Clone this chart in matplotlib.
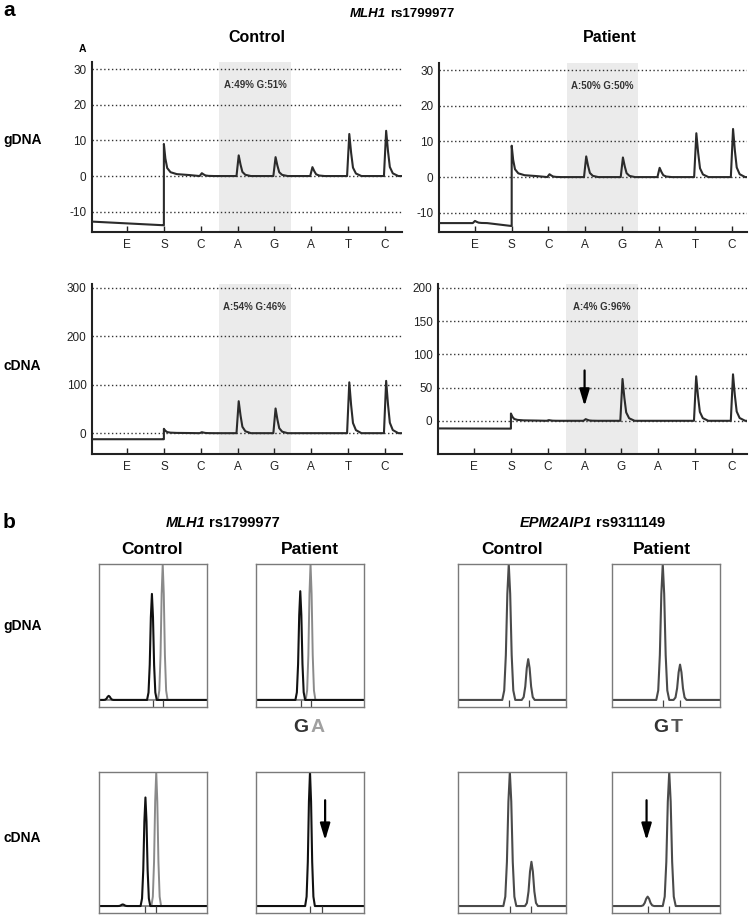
import matplotlib.pyplot as plt
import numpy as np

plt.rcParams['font.family'] = ['Liberation Sans', 'DejaVu Sans']
plt.rcParams['axes.unicode_minus'] = False

W, H = 751, 915

dispensations = ['E', 'S', 'C', 'A', 'G', 'A', 'T', 'C']

# panel a: pyrogram peak heights at each dispensation (E, S, C, A, G, A, T, C)
gdna_control = [0.0, 9.0, 0.8, 5.8, 5.3, 2.5, 11.8, 12.7]
gdna_patient = [0.6, 8.8, 0.8, 5.8, 5.5, 2.6, 12.3, 13.5]
cdna_control = [0.0, 9.0, 2.0, 66.0, 51.0, 0.0, 105.0, 108.0]
cdna_patient = [0.0, 11.0, 1.0, 2.5, 63.0, 0.0, 67.0, 70.0]
# signal level before the S step (start, end)
pre_gdna_control = [-12.8, -13.8]
pre_gdna_patient = [-12.9, -13.7]
pre_cdna_control = [-12.5, -12.5]
pre_cdna_patient = [-11.5, -11.8]
ratio_labels = ['A:49% G:51%', 'A:50% G:50%', 'A:54% G:46%', 'A:4% G:96%']

gdna_ticks = [-10, 0, 10, 20, 30]
cdna_control_ticks = [0, 100, 200, 300]
cdna_patient_ticks = [0, 50, 100, 150, 200]

# panel b: allele peaks as (position in window, relative height)
mlh1_g_ctrl_dark = [(0.09, 0.03), (0.49, 0.78)]
mlh1_g_ctrl_light = [(0.59, 1.0)]
mlh1_g_pat_dark = [(0.41, 0.80)]
mlh1_g_pat_light = [(0.505, 1.0)]
mlh1_c_ctrl_dark = [(0.22, 0.012), (0.43, 0.81)]
mlh1_c_ctrl_light = [(0.53, 1.0)]
mlh1_c_pat_dark = [(0.50, 1.0)]
mlh1_c_pat_light = []
epm_g_ctrl = [(0.47, 1.0), (0.65, 0.30)]
epm_g_pat = [(0.47, 1.0), (0.63, 0.26)]
epm_c_ctrl = [(0.48, 1.0), (0.68, 0.33)]
epm_c_pat = [(0.33, 0.07), (0.53, 1.0)]
# allele marks on the strip under each window
marks_mlh1_g_ctrl = [0.50, 0.59]
marks_mlh1_g_pat = [0.42, 0.51]
marks_mlh1_c_ctrl = [0.43, 0.53]
marks_mlh1_c_pat = [0.50, 0.61]
marks_epm_g_ctrl = [0.47, 0.66]
marks_epm_g_pat = [0.47, 0.63]
marks_epm_c_ctrl = [0.48, 0.68]
marks_epm_c_pat = [0.33, 0.53]

# peak shape templates (styling)
PEAK_DX = [-0.06, 0.0, 0.05, 0.1, 0.18, 0.33]
PEAK_FR = [0.0, 1.0, 0.55, 0.2, 0.06, 0.0]
S_DX = [0.04, 0.09, 0.18, 0.35, 0.7]
S_FR = [0.55, 0.25, 0.12, 0.06, 0.03]
B_DX = np.array([-1, -0.7, -0.45, -0.22, 0, 0.22, 0.45, 0.7, 1])
B_FR = np.array([0, 0.07, 0.33, 0.78, 1, 0.78, 0.33, 0.07, 0])
ARROW = dict(arrowstyle='-|>,head_width=0.3,head_length=1.0',
             color='black', lw=1.6)

fig = plt.figure(figsize=(W / 100, H / 100), dpi=100)


def px_axes(l, t, r, b):
    return fig.add_axes([l / W, 1 - b / H, (r - l) / W, (b - t) / H])


def ftext(x, y, s, **kw):
    kw.setdefault('ha', 'center')
    kw.setdefault('va', 'center')
    fig.text(x / W, 1 - y / H, s, **kw)


def pyro_trace(heights, pre, x0, x1):
    xs, ys = [x0], [pre[0]]
    if heights[0] > 0:
        for dx, fr in zip(PEAK_DX, PEAK_FR):
            xs.append(1 + dx)
            ys.append(pre[0] + fr * heights[0])
    xs += [1.98, 2.0, 2.0]
    ys += [pre[1], pre[1], heights[1]]
    for dx, fr in zip(S_DX, S_FR):
        xs.append(2 + dx)
        ys.append(fr * heights[1])
    for i in range(2, 8):
        c = i + 1.03
        for dx, fr in zip(PEAK_DX, PEAK_FR):
            xs.append(c + dx)
            ys.append(fr * heights[i])
    xs.append(x1)
    ys.append(0)
    return xs, ys


def pyro_panel(rect, heights, pre, yticks, ylim, xlim, label):
    ax = px_axes(*rect)
    ax.axvspan(3.5, 5.45, color='#ebebeb', zorder=0, lw=0)
    xs, ys = pyro_trace(heights, pre, xlim[0] + 0.03, xlim[1] - 0.02)
    ax.plot(xs, ys, color='#2b2b2b', lw=1.5, zorder=3)
    ax.set_xlim(*xlim)
    ax.set_ylim(*ylim)
    ax.set_xticks(range(1, 9))
    ax.set_xticklabels(dispensations)
    ax.set_yticks(yticks)
    for s in ['top', 'right']:
        ax.spines[s].set_visible(False)
    for s in ['left', 'bottom']:
        ax.spines[s].set_linewidth(1.5)
        ax.spines[s].set_color('#222222')
    ax.tick_params(axis='x', direction='in', length=4, width=1, pad=5,
                   labelsize=8.5, colors='#222222')
    ax.tick_params(axis='y', length=0, pad=4, labelsize=8.5, colors='#222222')
    ax.yaxis.grid(True, linestyle=(0, (1, 1.8)), color='#333333', lw=1.0)
    ax.set_axisbelow(True)
    ax.text(4.47, 0.865, label, transform=ax.get_xaxis_transform(),
            ha='center', va='center', fontsize=7, fontweight='bold',
            color='#333333')
    return ax


pyro_panel((92, 62, 402, 232), gdna_control, pre_gdna_control, gdna_ticks,
           (-15.7, 32), (0.05, 8.46), ratio_labels[0])
pyro_panel((439, 63, 747, 232), gdna_patient, pre_gdna_patient, gdna_ticks,
           (-15.4, 32), (0.02, 8.41), ratio_labels[1])
pyro_panel((92, 284, 402, 454), cdna_control, pre_cdna_control,
           cdna_control_ticks, (-43, 308), (0.05, 8.46), ratio_labels[2])
ax_cp = pyro_panel((438, 284, 747, 454), cdna_patient, pre_cdna_patient,
                   cdna_patient_ticks, (-50, 206), (0.02, 8.41), ratio_labels[3])
ax_cp.annotate('', xy=(4, 18), xytext=(4, 80), arrowprops=ARROW, zorder=5)


def allele_trace(peaks, hw):
    xs, ys = [0.0], [0.0]
    for pos, h in sorted(peaks):
        xs += list(pos + B_DX * hw)
        ys += list(B_FR * h)
    xs.append(1.0)
    ys.append(0.0)
    return xs, ys


def allele_panel(rect, dark, light, marks, hw, dark_color='#111111',
                 light_color='#8a8a8a'):
    ax = px_axes(*rect)
    if light:
        xs, ys = allele_trace(light, hw)
        ax.plot(xs, ys, color=light_color, lw=1.4)
    xs, ys = allele_trace(dark, hw)
    ax.plot(xs, ys, color=dark_color, lw=1.5)
    ax.vlines(marks, -0.052, 0, color='#444444', lw=0.9)
    ax.set_xlim(0, 1)
    ax.set_ylim(-0.052, 1.0)
    ax.set_xticks([])
    ax.set_yticks([])
    for s in ax.spines.values():
        s.set_color('#7a7a7a')
        s.set_linewidth(1.0)
    return ax


cols = [99, 256, 458, 612]
gtop, gbot = 564, 707
ctop, cbot = 772, 913
bw = 108

allele_panel((cols[0], gtop, cols[0] + bw, gbot), mlh1_g_ctrl_dark,
             mlh1_g_ctrl_light, marks_mlh1_g_ctrl, 0.045)
allele_panel((cols[1], gtop, cols[1] + bw, gbot), mlh1_g_pat_dark,
             mlh1_g_pat_light, marks_mlh1_g_pat, 0.045)
allele_panel((cols[2], gtop, cols[2] + bw, gbot), epm_g_ctrl, [],
             marks_epm_g_ctrl, 0.06, dark_color='#4a4a4a')
allele_panel((cols[3], gtop, cols[3] + bw, gbot), epm_g_pat, [],
             marks_epm_g_pat, 0.06, dark_color='#4a4a4a')
allele_panel((cols[0], ctop, cols[0] + bw, cbot), mlh1_c_ctrl_dark,
             mlh1_c_ctrl_light, marks_mlh1_c_ctrl, 0.045)
axb = allele_panel((cols[1], ctop, cols[1] + bw, cbot), mlh1_c_pat_dark,
                   mlh1_c_pat_light, marks_mlh1_c_pat, 0.045)
axb.annotate('', xy=(0.64, 0.47), xytext=(0.64, 0.81), arrowprops=ARROW)
allele_panel((cols[2], ctop, cols[2] + bw, cbot), epm_c_ctrl, [],
             marks_epm_c_ctrl, 0.06, dark_color='#4a4a4a')
axe = allele_panel((cols[3], ctop, cols[3] + bw, cbot), epm_c_pat, [],
                   marks_epm_c_pat, 0.06, dark_color='#4a4a4a')
axe.annotate('', xy=(0.32, 0.47), xytext=(0.32, 0.81), arrowprops=ARROW)

# labels, panel a
ftext(3, 11, 'a', ha='left', fontsize=15, fontweight='bold')
ftext(386, 14, 'MLH1', ha='right', fontsize=9.5, fontweight='bold',
      style='italic')
ftext(390, 14, 'rs1799977', ha='left', fontsize=9.5, fontweight='bold')
ftext(257, 37, 'Control', fontsize=11.5, fontweight='bold')
ftext(610, 37, 'Patient', fontsize=11.5, fontweight='bold')
ftext(82, 49, 'A', fontsize=7.5, fontweight='bold')
ftext(3, 140, 'gDNA', ha='left', fontsize=10, fontweight='bold')
ftext(3, 366, 'cDNA', ha='left', fontsize=10, fontweight='bold')

# labels, panel b
ftext(3, 523, 'b', ha='left', fontsize=15, fontweight='bold')
ftext(205, 523, 'MLH1', ha='right', fontsize=10.5, fontweight='bold',
      style='italic')
ftext(209, 523, 'rs1799977', ha='left', fontsize=10.5, fontweight='bold')
ftext(592, 523, 'EPM2AIP1', ha='right', fontsize=10.5, fontweight='bold',
      style='italic')
ftext(596, 523, 'rs9311149', ha='left', fontsize=10.5, fontweight='bold')
for x, s in zip([152, 310, 512, 662], ['Control', 'Patient', 'Control', 'Patient']):
    ftext(x, 550, s, fontsize=12.5, fontweight='bold')
ftext(3, 626, 'gDNA', ha='left', fontsize=10, fontweight='bold')
ftext(3, 838, 'cDNA', ha='left', fontsize=10, fontweight='bold')

ftext(301, 727, 'G', fontsize=14, fontweight='bold', color='#333333')
ftext(318, 727, 'A', fontsize=14, fontweight='bold', color='#a0a0a0')
ftext(661, 727, 'G', fontsize=14, fontweight='bold', color='#333333')
ftext(677, 727, 'T', fontsize=14, fontweight='bold', color='#555555')

fig.savefig('out.png', dpi=100)
